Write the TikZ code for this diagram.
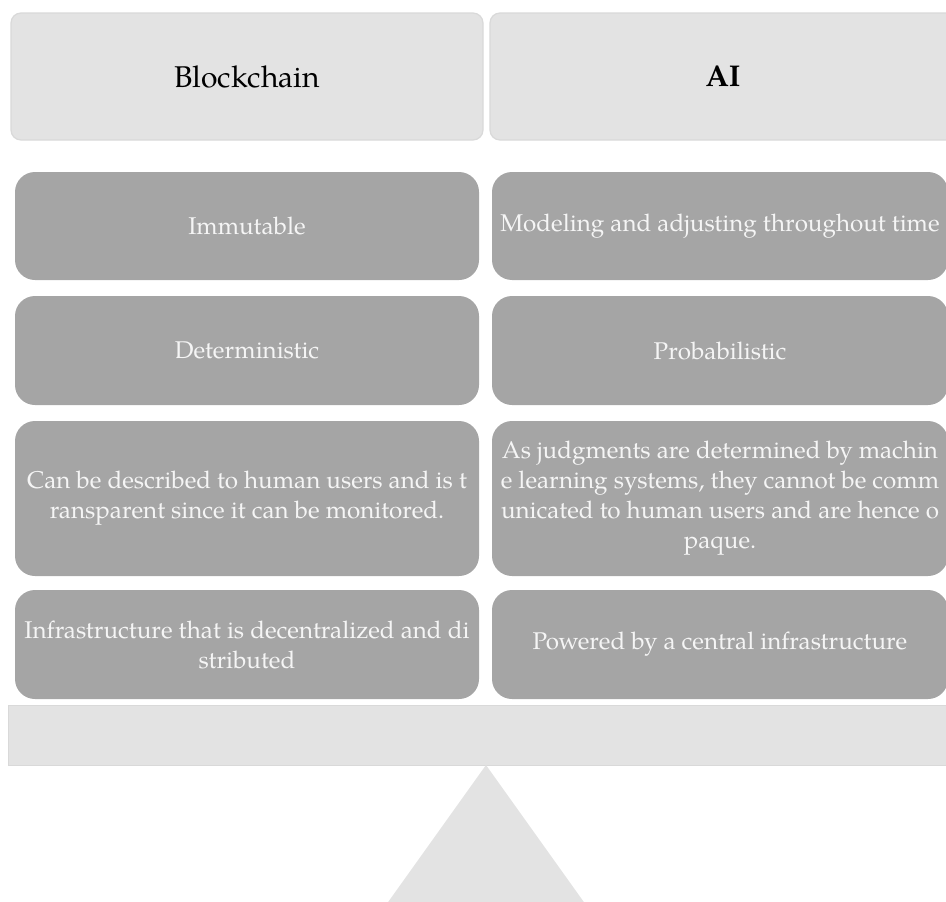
\documentclass[tikz,border=0pt]{standalone}
\usepackage{fontspec}
\setmainfont{TeX Gyre Pagella}
\definecolor{hdr}{HTML}{E3E3E3}
\definecolor{hdrline}{HTML}{D9D9D9}
\definecolor{cellfill}{HTML}{A5A5A5}
\begin{document}
\begin{tikzpicture}[x=1pt,y=-1pt,
  hdrbox/.style={draw=hdrline, fill=hdr, rounded corners=10pt, line width=1.2pt,
    minimum width=472pt, minimum height=127pt, inner sep=0pt,
    font=\fontsize{30}{36}\selectfont},
  cell/.style={fill=cellfill, rounded corners=20pt, minimum width=464pt, inner sep=0pt,
    text=white!96!black, align=center, font=\fontsize{24.2}{30}\selectfont},
  rcell/.style={cell, minimum width=456pt}]
\useasboundingbox (0,0) rectangle (946,902);
% headers
\node[hdrbox] (hb) at (247,76.5) {Blockchain};
\node[hdrbox, minimum width=466pt] (ha) at (723,76.5) {\textbf{AI}};
% row 1
\node[cell, minimum height=108pt] (b1) at (247,226) {Immutable};
\node[rcell, minimum height=108pt] (a1) at (720,226) {Modeling and adjusting throughout time};
% row 2
\node[cell, minimum height=109pt] (b2) at (247,350.5) {Deterministic};
\node[rcell, minimum height=109pt] (a2) at (720,350.5) {Probabilistic};
% row 3
\node[cell, minimum height=155pt] (b3) at (247,498.5) {Can be described to human users and is t\\ransparent since it can be monitored.};
\node[rcell, minimum height=155pt] (a3) at (720,498.5) {As judgments are determined by machin\\e learning systems, they cannot be comm\\unicated to human users and are hence o\\paque.};
% row 4
\node[cell, minimum height=109pt] (b4) at (247,644.5) {Infrastructure that is decentralized and di\\stributed};
\node[rcell, minimum height=109pt] (a4) at (720,644.5) {Powered by a central infrastructure};
% seesaw bar and fulcrum
\node[fill=hdr, draw=hdrline, line width=0.8pt, minimum width=952pt, minimum height=60pt, inner sep=0pt] (bar) at (484,735) {};
\fill[hdr] (486,765) -- (381,912) -- (591,912) -- cycle;
\end{tikzpicture}
\end{document}
